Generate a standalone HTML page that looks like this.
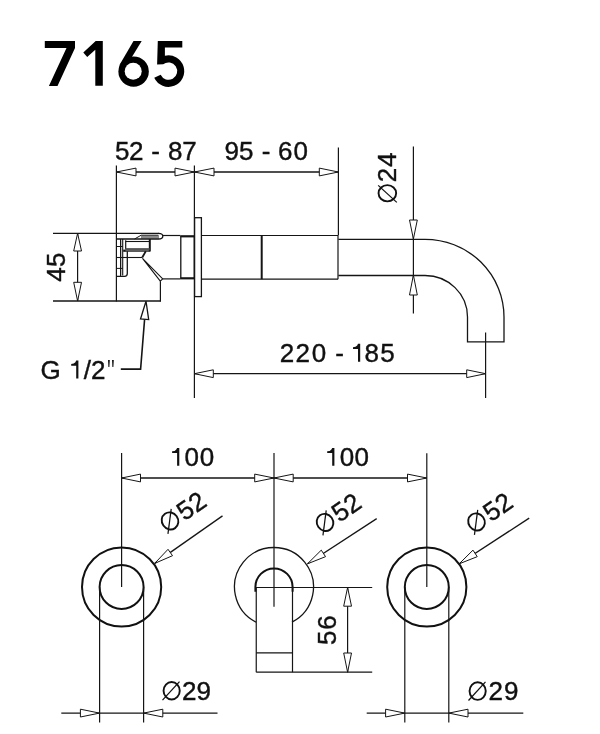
<!DOCTYPE html>
<html><head><meta charset="utf-8"><style>
html,body{margin:0;padding:0;background:#fff;}
svg{display:block;will-change:transform;}
text{font-family:"Liberation Sans",sans-serif;fill:#111;stroke:#111;stroke-width:0.4px;}
</style></head><body>
<svg width="600" height="734" viewBox="0 0 600 734">
<polygon points="44.80,41.00 75.00,41.00 75.00,47.90 57.50,85.90 48.90,85.90 66.50,47.90 44.80,47.90" fill="#000" stroke="none" stroke-width="1.2" stroke-linejoin="miter" />
<polygon points="95.70,41.00 102.80,41.00 102.80,85.80 95.30,85.80 95.30,49.70 87.20,57.10 83.30,52.50" fill="#000" stroke="none" stroke-width="1.2" stroke-linejoin="miter" />
<polygon points="133.50,41.00 141.70,41.00 131.00,58.50 119.20,65.50" fill="#000" stroke="none" stroke-width="1.2" stroke-linejoin="miter" />
<circle cx="133.6" cy="71.6" r="15.2" fill="#000"/>
<circle cx="133.2" cy="71.3" r="8.5" fill="#fff"/>
<path d="M157.8,41 L182.3,41 L182.3,47.6 L164.9,47.6 L164.9,55.82 A15.75,15.75 0 1 1 154.23,77.81 L160.66,74.81 A8.65,8.65 0 1 0 163.17,64.33 L157.1,64.6 Z" fill="#000" stroke="none" stroke-width="1.2" />
<line x1="116.4" y1="172.0" x2="338.4" y2="172.0" stroke="#151515" stroke-width="1.3"/>
<line x1="116.4" y1="165.5" x2="116.4" y2="301.5" stroke="#151515" stroke-width="1.2"/>
<line x1="194.4" y1="165.5" x2="194.4" y2="398" stroke="#151515" stroke-width="1.2"/>
<line x1="338.4" y1="147.5" x2="338.4" y2="235.5" stroke="#151515" stroke-width="1.2"/>
<polygon points="116.40,172.00 136.00,168.10 136.00,175.90" fill="#fff" stroke="#151515" stroke-width="1.0" stroke-linejoin="miter" />
<polygon points="194.40,172.00 175.00,175.90 175.00,168.10" fill="#fff" stroke="#151515" stroke-width="1.0" stroke-linejoin="miter" />
<polygon points="194.40,172.00 214.00,168.10 214.00,175.90" fill="#fff" stroke="#151515" stroke-width="1.0" stroke-linejoin="miter" />
<polygon points="338.40,172.00 319.30,175.90 319.30,168.10" fill="#fff" stroke="#151515" stroke-width="1.0" stroke-linejoin="miter" />
<text x="114.96" y="160.00" font-size="26">5</text><text x="129.09" y="160.00" font-size="26">2</text><text x="151.24" y="160.00" font-size="26">-</text><text x="168.07" y="160.00" font-size="26">8</text><text x="182.27" y="160.00" font-size="26">7</text>
<text x="224.38" y="160.00" font-size="26">9</text><text x="238.96" y="160.00" font-size="26">5</text><text x="261.64" y="160.00" font-size="26">-</text><text x="277.88" y="160.00" font-size="26">6</text><text x="293.38" y="160.00" font-size="26">0</text>
<line x1="413.4" y1="146.5" x2="413.4" y2="313.5" stroke="#151515" stroke-width="1.2"/>
<polygon points="413.40,239.00 409.50,220.00 417.30,220.00" fill="#fff" stroke="#151515" stroke-width="1.0" stroke-linejoin="miter" />
<polygon points="413.40,275.00 417.30,295.00 409.50,295.00" fill="#fff" stroke="#151515" stroke-width="1.0" stroke-linejoin="miter" />
<g transform="translate(396.2,202.7) rotate(-90)"><ellipse cx="9.45" cy="-8.85" rx="8.1" ry="8.8" fill="none" stroke="#111" stroke-width="1.9"/><line x1="0.30" y1="0.60" x2="17.30" y2="-18.00" stroke="#111" stroke-width="1.25"/><text x="20.49" y="0.00" font-size="26">2</text><text x="35.70" y="0.00" font-size="26">4</text></g>
<line x1="53.0" y1="233.3" x2="159" y2="233.3" stroke="#151515" stroke-width="1.2"/>
<line x1="53.0" y1="301" x2="160.9" y2="301" stroke="#151515" stroke-width="1.3"/>
<line x1="77.6" y1="233.3" x2="77.6" y2="301" stroke="#151515" stroke-width="1.2"/>
<polygon points="77.60,233.30 81.50,251.00 73.70,251.00" fill="#fff" stroke="#151515" stroke-width="1.0" stroke-linejoin="miter" />
<polygon points="77.60,301.00 73.70,282.30 81.50,282.30" fill="#fff" stroke="#151515" stroke-width="1.0" stroke-linejoin="miter" />
<g transform="translate(65.4,281.1) rotate(-90)"><text x="-0.60" y="0.00" font-size="26">4</text><text x="14.16" y="0.00" font-size="26">5</text></g>
<line x1="160.4" y1="281.2" x2="160.4" y2="301.6" stroke="#151515" stroke-width="1.2"/>
<line x1="162.7" y1="278.9" x2="180.5" y2="278.9" stroke="#151515" stroke-width="1.2"/>
<line x1="162" y1="235.5" x2="180.5" y2="235.5" stroke="#151515" stroke-width="1.2"/>
<rect x="180.8" y="236.6" width="13.5" height="41.6" fill="none" stroke="#151515" stroke-width="1.3"/>
<line x1="180.5" y1="236.2" x2="194.5" y2="236.2" stroke="#151515" stroke-width="2"/>
<line x1="180.5" y1="278.4" x2="194.5" y2="278.4" stroke="#151515" stroke-width="2"/>
<rect x="194.6" y="217.7" width="6.8" height="78.9" fill="none" stroke="#151515" stroke-width="1.3"/>
<line x1="201.4" y1="235.5" x2="338" y2="235.5" stroke="#151515" stroke-width="1.2"/>
<line x1="201.4" y1="279.2" x2="338" y2="279.2" stroke="#151515" stroke-width="1.2"/>
<line x1="261.7" y1="235.5" x2="261.7" y2="279.2" stroke="#151515" stroke-width="2"/>
<line x1="338" y1="235.5" x2="338" y2="279.2" stroke="#151515" stroke-width="1.2"/>
<path d="M338.4,239.3 L425,239.3 A79,77.7 0 0 1 504,317 L504,341.8 L467.5,341.8 L467.5,317 A42.5,41.5 0 0 0 425,275.5 L338.4,275.5" fill="none" stroke="#151515" stroke-width="1.3" />
<line x1="485.6" y1="332.5" x2="485.6" y2="398" stroke="#151515" stroke-width="1.2"/>
<line x1="194.4" y1="373.7" x2="485.6" y2="373.7" stroke="#151515" stroke-width="1.3"/>
<polygon points="194.40,373.70 213.30,369.80 213.30,377.60" fill="#fff" stroke="#151515" stroke-width="1.0" stroke-linejoin="miter" />
<polygon points="485.60,373.70 466.70,377.60 466.70,369.80" fill="#fff" stroke="#151515" stroke-width="1.0" stroke-linejoin="miter" />
<text x="279.69" y="361.70" font-size="26">2</text><text x="295.49" y="361.70" font-size="26">2</text><text x="311.78" y="361.70" font-size="26">0</text><text x="335.14" y="361.70" font-size="26">-</text><polygon points="358.00,343.80 360.20,343.80 360.20,361.70 358.00,361.70 358.00,348.90 353.00,348.90 353.00,347.20 355.50,346.80 357.20,345.50" fill="#111"/><text x="364.47" y="361.70" font-size="26">8</text><text x="380.16" y="361.70" font-size="26">5</text>
<text x="40.49" y="378.50" font-size="26">G</text><polygon points="76.20,360.60 78.40,360.60 78.40,378.50 76.20,378.50 76.20,365.70 71.20,365.70 71.20,364.00 73.70,363.60 75.40,362.30" fill="#111"/><text x="83.70" y="378.50" font-size="26">/</text><text x="91.09" y="378.50" font-size="26">2</text><polygon points="108.00,359.90 109.80,359.90 109.40,366.90 108.40,366.90" fill="#111"/><polygon points="112.00,359.90 113.80,359.90 113.40,366.90 112.40,366.90" fill="#111"/>
<path d="M120.8,369.1 L140.6,369.1 L144.6,319.3" fill="none" stroke="#151515" stroke-width="1.6" />
<polygon points="146.00,301.20 148.69,319.62 140.51,318.98" fill="#fff" stroke="#151515" stroke-width="1.3" stroke-linejoin="miter" />
<rect x="141" y="235.6" width="18" height="3.0" fill="#8a8a8a"/>
<path d="M158.5,233.4 Q162.8,233.6 162.8,236.2 Q162.8,239.0 158.5,239.0 L116.6,239.0" fill="none" stroke="#151515" stroke-width="1.3" />
<path d="M134.5,239.0 L141.2,235.2 L158.5,235.2" fill="none" stroke="#151515" stroke-width="1.0" />
<line x1="149.8" y1="239.0" x2="149.8" y2="251.5" stroke="#151515" stroke-width="2.0"/>
<line x1="120.5" y1="239.1" x2="120.5" y2="276.2" stroke="#151515" stroke-width="1.0"/>
<line x1="121.6" y1="240.2" x2="121.6" y2="275.5" stroke="#888" stroke-width="0.6"/>
<line x1="122.7" y1="239.1" x2="122.7" y2="275.5" stroke="#151515" stroke-width="1.1"/>
<line x1="116.6" y1="246.5" x2="122.7" y2="246.5" stroke="#151515" stroke-width="1.0"/>
<line x1="116.6" y1="268.4" x2="122.7" y2="268.4" stroke="#151515" stroke-width="1.0"/>
<line x1="116.6" y1="257.5" x2="142.2" y2="257.5" stroke="#151515" stroke-width="1.1"/>
<path d="M116.6,276.4 L124.6,276.4 Q127.3,276.2 127.3,273.4 L127.3,251.2" fill="none" stroke="#151515" stroke-width="1.3" />
<line x1="125.7" y1="241.5" x2="149.8" y2="241.5" stroke="#151515" stroke-width="1.1"/>
<line x1="125.7" y1="240.2" x2="125.7" y2="249.5" stroke="#151515" stroke-width="1.2"/>
<rect x="123.2" y="249.6" width="2.6" height="2.2" fill="#111"/>
<rect x="125.5" y="248.1" width="24" height="2.4" fill="#555"/>
<line x1="125.5" y1="251.1" x2="149.8" y2="251.1" stroke="#151515" stroke-width="1.2"/>
<path d="M142.2,257.5 L145.8,251.2" fill="none" stroke="#151515" stroke-width="1.8" />
<path d="M142.7,258.6 L160.3,281.2 L162.7,278.8 Z" fill="none" stroke="#151515" stroke-width="1.1" stroke-linejoin="round"/>
<line x1="121.6" y1="478.0" x2="426.8" y2="478.0" stroke="#151515" stroke-width="1.3"/>
<line x1="121.6" y1="453" x2="121.6" y2="587" stroke="#151515" stroke-width="1.2"/>
<line x1="274" y1="453" x2="274" y2="606.75" stroke="#151515" stroke-width="1.2"/>
<line x1="426.8" y1="453.25" x2="426.8" y2="587" stroke="#151515" stroke-width="1.2"/>
<polygon points="121.60,478.00 140.50,474.10 140.50,481.90" fill="#fff" stroke="#151515" stroke-width="1.0" stroke-linejoin="miter" />
<polygon points="274.00,478.00 254.70,481.90 254.70,474.10" fill="#fff" stroke="#151515" stroke-width="1.0" stroke-linejoin="miter" />
<polygon points="274.00,478.00 293.20,474.10 293.20,481.90" fill="#fff" stroke="#151515" stroke-width="1.0" stroke-linejoin="miter" />
<polygon points="426.80,478.00 407.50,481.90 407.50,474.10" fill="#fff" stroke="#151515" stroke-width="1.0" stroke-linejoin="miter" />
<polygon points="177.10,447.90 179.30,447.90 179.30,465.80 177.10,465.80 177.10,453.00 172.10,453.00 172.10,451.30 174.60,450.90 176.30,449.60" fill="#111"/><text x="184.58" y="465.80" font-size="26">0</text><text x="199.78" y="465.80" font-size="26">0</text>
<polygon points="332.20,447.90 334.40,447.90 334.40,465.80 332.20,465.80 332.20,453.00 327.20,453.00 327.20,451.30 329.70,450.90 331.40,449.60" fill="#111"/><text x="339.78" y="465.80" font-size="26">0</text><text x="354.58" y="465.80" font-size="26">0</text>
<circle cx="121.6" cy="587" r="39.6" fill="none" stroke="#111" stroke-width="2"/>
<circle cx="121.6" cy="587" r="22.0" fill="none" stroke="#111" stroke-width="2"/>
<line x1="99.6" y1="587" x2="99.6" y2="722.5" stroke="#151515" stroke-width="1.2"/>
<line x1="143.6" y1="587" x2="143.6" y2="722.5" stroke="#151515" stroke-width="1.2"/>
<circle cx="426.8" cy="587" r="39.6" fill="none" stroke="#111" stroke-width="2"/>
<circle cx="426.8" cy="587" r="22.0" fill="none" stroke="#111" stroke-width="2"/>
<line x1="404.8" y1="587" x2="404.8" y2="722.5" stroke="#151515" stroke-width="1.2"/>
<line x1="448.8" y1="587" x2="448.8" y2="722.5" stroke="#151515" stroke-width="1.2"/>
<path d="M256,622.16 A39.5,39.5 0 1 1 292,622.16" fill="none" stroke="#151515" stroke-width="1.3" />
<path d="M255.4,591.8 L255.4,587 A18.6,18.6 0 0 1 292.6,587 L292.6,591.8" fill="none" stroke="#111" stroke-width="2" />
<line x1="255.5" y1="587.5" x2="372.2" y2="587.5" stroke="#151515" stroke-width="1.2"/>
<line x1="256.25" y1="587.5" x2="256.25" y2="672.2" stroke="#151515" stroke-width="1.2"/>
<line x1="292.5" y1="587.5" x2="292.5" y2="672.2" stroke="#151515" stroke-width="1.2"/>
<line x1="256.25" y1="652.8" x2="292.5" y2="652.8" stroke="#151515" stroke-width="1.2"/>
<line x1="256.25" y1="672.2" x2="372.2" y2="672.2" stroke="#151515" stroke-width="1.3"/>
<line x1="347.6" y1="587.5" x2="347.6" y2="672.2" stroke="#151515" stroke-width="1.2"/>
<polygon points="347.60,587.50 351.50,606.20 343.70,606.20" fill="#fff" stroke="#151515" stroke-width="1.0" stroke-linejoin="miter" />
<polygon points="347.60,672.20 343.70,653.00 351.50,653.00" fill="#fff" stroke="#151515" stroke-width="1.0" stroke-linejoin="miter" />
<g transform="translate(336.2,643.9) rotate(-90)"><text x="-1.04" y="0.00" font-size="26">5</text><text x="14.18" y="0.00" font-size="26">6</text></g>
<line x1="222.5" y1="515.9" x2="154.7" y2="563.4" stroke="#151515" stroke-width="1.3"/>
<polygon points="154.70,563.40 168.02,549.30 172.50,555.69" fill="#fff" stroke="#151515" stroke-width="1.0" stroke-linejoin="miter" />
<line x1="376.7" y1="518.6" x2="307.5" y2="563.8" stroke="#151515" stroke-width="1.3"/>
<polygon points="307.50,563.80 321.27,550.14 325.54,556.67" fill="#fff" stroke="#151515" stroke-width="1.0" stroke-linejoin="miter" />
<line x1="529.2" y1="518.1" x2="459.2" y2="563.8" stroke="#151515" stroke-width="1.3"/>
<polygon points="459.20,563.80 472.98,550.15 477.24,556.68" fill="#fff" stroke="#151515" stroke-width="1.0" stroke-linejoin="miter" />
<g transform="translate(168.02,533.14) rotate(-35)"><ellipse cx="8.65" cy="-8.85" rx="8.1" ry="8.8" fill="none" stroke="#111" stroke-width="1.9"/><line x1="-0.50" y1="0.60" x2="16.50" y2="-18.00" stroke="#111" stroke-width="1.25"/><text x="20.22" y="0.00" font-size="26">5</text><text x="34.68" y="0.00" font-size="26">2</text></g>
<g transform="translate(323.02,534.64) rotate(-35)"><ellipse cx="8.65" cy="-8.85" rx="8.1" ry="8.8" fill="none" stroke="#111" stroke-width="1.9"/><line x1="-0.50" y1="0.60" x2="16.50" y2="-18.00" stroke="#111" stroke-width="1.25"/><text x="20.22" y="0.00" font-size="26">5</text><text x="34.68" y="0.00" font-size="26">2</text></g>
<g transform="translate(474.52,534.14) rotate(-35)"><ellipse cx="8.65" cy="-8.85" rx="8.1" ry="8.8" fill="none" stroke="#111" stroke-width="1.9"/><line x1="-0.50" y1="0.60" x2="16.50" y2="-18.00" stroke="#111" stroke-width="1.25"/><text x="20.22" y="0.00" font-size="26">5</text><text x="34.68" y="0.00" font-size="26">2</text></g>
<ellipse cx="171.65" cy="690.75" rx="8.1" ry="8.8" fill="none" stroke="#111" stroke-width="1.9"/><line x1="162.50" y1="700.20" x2="179.50" y2="681.60" stroke="#111" stroke-width="1.25"/><text x="181.89" y="699.60" font-size="26">2</text><text x="196.48" y="699.60" font-size="26">9</text>
<ellipse cx="477.65" cy="691.05" rx="8.1" ry="8.8" fill="none" stroke="#111" stroke-width="1.9"/><line x1="468.50" y1="700.50" x2="485.50" y2="681.90" stroke="#111" stroke-width="1.25"/><text x="488.39" y="699.90" font-size="26">2</text><text x="503.88" y="699.90" font-size="26">9</text>
<line x1="61.3" y1="713.1" x2="217.5" y2="713.1" stroke="#151515" stroke-width="1.3"/>
<polygon points="99.60,713.10 80.40,717.00 80.40,709.20" fill="#fff" stroke="#151515" stroke-width="1.0" stroke-linejoin="miter" />
<polygon points="143.60,713.10 162.80,709.20 162.80,717.00" fill="#fff" stroke="#151515" stroke-width="1.0" stroke-linejoin="miter" />
<line x1="366.7" y1="713.1" x2="523.3" y2="713.1" stroke="#151515" stroke-width="1.3"/>
<polygon points="404.80,713.10 385.60,717.00 385.60,709.20" fill="#fff" stroke="#151515" stroke-width="1.0" stroke-linejoin="miter" />
<polygon points="448.80,713.10 468.00,709.20 468.00,717.00" fill="#fff" stroke="#151515" stroke-width="1.0" stroke-linejoin="miter" />
</svg>
</body></html>
